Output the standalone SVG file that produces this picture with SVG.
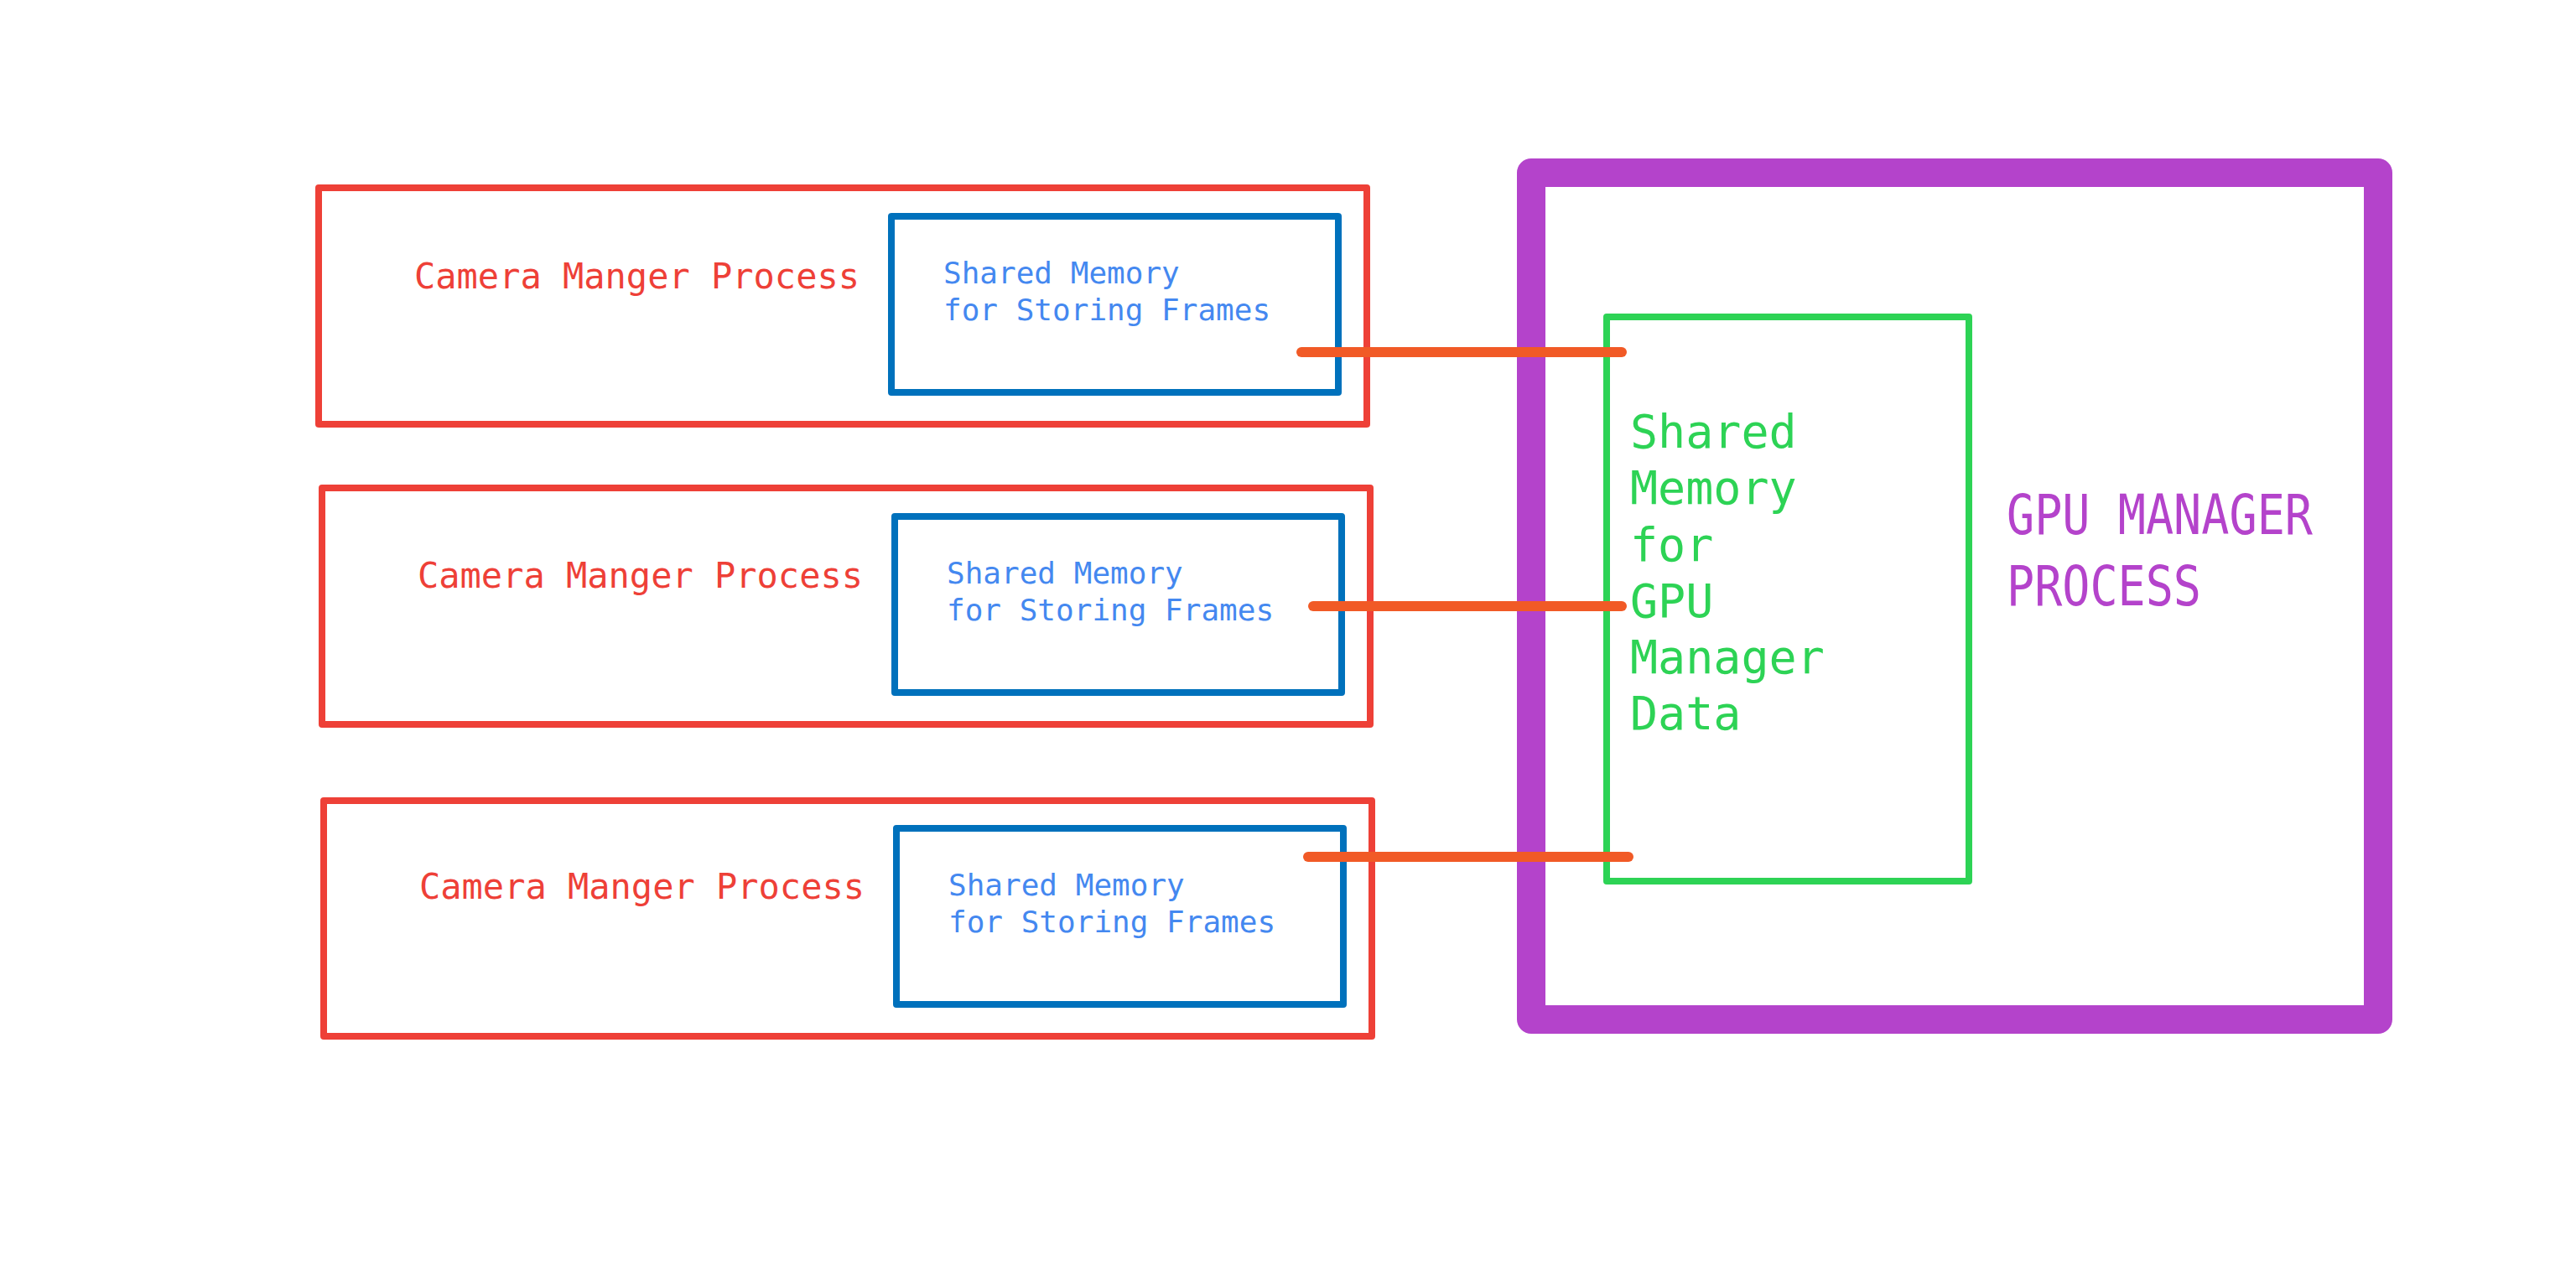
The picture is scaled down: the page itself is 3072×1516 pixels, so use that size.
<svg xmlns="http://www.w3.org/2000/svg" width="3072" height="1516" viewBox="0 0 3072 1516">
<style>
.cam{fill:none;stroke:#EE4037;stroke-width:8;stroke-linejoin:round}
.shm{fill:none;stroke:#0071BC;stroke-width:8;stroke-linejoin:round}
.camt{font-family:"DejaVu Sans Mono","Liberation Mono",monospace;font-size:42px;fill:#EE4037}
.shmt{font-family:"DejaVu Sans Mono","Liberation Mono",monospace;font-size:36px;fill:#4488F0}
.gpu{fill:none;stroke:#B443CB;stroke-width:34;stroke-linejoin:round}
.gpum{fill:none;stroke:#2DD355;stroke-width:8;stroke-linejoin:round}
.gpumt{font-family:"DejaVu Sans Mono","Liberation Mono",monospace;font-size:55px;fill:#2DD355}
.gput{font-family:"DejaVu Sans Mono","Liberation Mono",monospace;font-size:66px;fill:#B443CB}
.conn{stroke:#F15A26;stroke-width:12;stroke-linecap:round;fill:none}
</style>
<rect width="3072" height="1516" fill="#FFFFFF"/>
<g id="camera1">
<rect class="cam" x="380" y="224" width="1250" height="282"/>
<text class="camt" x="494" y="344">Camera Manger Process</text>
</g>
<g id="shm1">
<rect class="shm" x="1063" y="258" width="533" height="210"/>
<text class="shmt" x="1125" y="338">Shared Memory</text>
<text class="shmt" x="1125" y="382">for Storing Frames</text>
</g>
<g id="camera2">
<rect class="cam" x="384" y="582" width="1250" height="282"/>
<text class="camt" x="498" y="701">Camera Manger Process</text>
</g>
<g id="shm2">
<rect class="shm" x="1067" y="616" width="533" height="210"/>
<text class="shmt" x="1129" y="696">Shared Memory</text>
<text class="shmt" x="1129" y="740">for Storing Frames</text>
</g>
<g id="camera3">
<rect class="cam" x="386" y="955" width="1250" height="281"/>
<text class="camt" x="500" y="1072">Camera Manger Process</text>
</g>
<g id="shm3">
<rect class="shm" x="1069" y="988" width="533" height="210"/>
<text class="shmt" x="1131" y="1068">Shared Memory</text>
<text class="shmt" x="1131" y="1112">for Storing Frames</text>
</g>
<g id="gpu-manager">
<rect class="gpu" x="1826" y="206" width="1010" height="1010"/>
<text class="gput" x="2393" y="637" textLength="365" lengthAdjust="spacingAndGlyphs">GPU MANAGER</text>
<text class="gput" x="2393" y="722" textLength="232" lengthAdjust="spacingAndGlyphs">PROCESS</text>
</g>
<g id="gpu-shm">
<rect class="gpum" x="1916" y="378" width="432" height="673"/>
<text class="gpumt" x="1944" y="534">Shared</text>
<text class="gpumt" x="1944" y="601">Memory</text>
<text class="gpumt" x="1944" y="669">for</text>
<text class="gpumt" x="1944" y="736">GPU</text>
<text class="gpumt" x="1944" y="803">Manager</text>
<text class="gpumt" x="1944" y="870">Data</text>
</g>
<g id="connectors">
<line class="conn" x1="1552" y1="420" x2="1934" y2="420"/>
<line class="conn" x1="1566" y1="723" x2="1934" y2="723"/>
<line class="conn" x1="1560" y1="1022" x2="1942" y2="1022"/>
</g>
</svg>
